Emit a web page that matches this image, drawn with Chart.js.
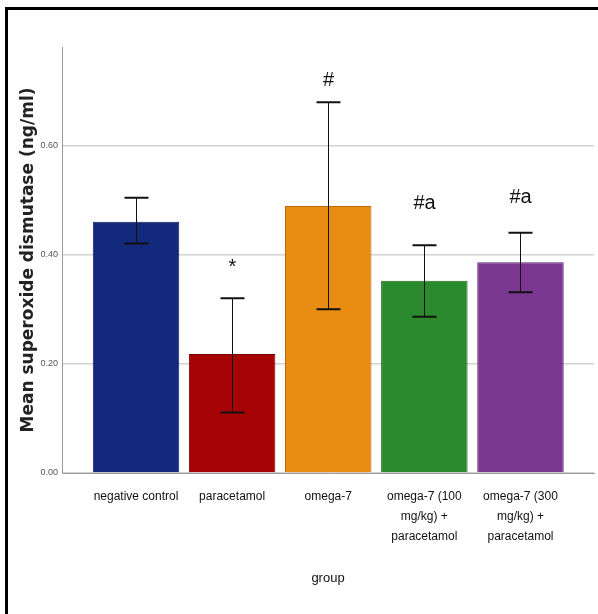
<!DOCTYPE html>
<html>
<head>
<meta charset="utf-8">
<script src="https://cdn.jsdelivr.net/npm/chart.js@4"></script>
<style>
  html, body { margin: 0; padding: 0; background: #fff; }
  #wrap { position: relative; width: 598px; height: 614px; }
</style>
</head>
<body>
<div id="wrap"><canvas id="chart" width="598" height="614"></canvas></div>
<script>
const groups = ["negative control", "paracetamol", "omega-7", "omega-7 (100 mg/kg) + paracetamol", "omega-7 (300 mg/kg) + paracetamol"];
const groupLines = [["negative control"], ["paracetamol"], ["omega-7"], ["omega-7 (100", "mg/kg) +", "paracetamol"], ["omega-7 (300", "mg/kg) +", "paracetamol"]];
const means = [0.460, 0.218, 0.489, 0.352, 0.386];
const errLow = [0.420, 0.111, 0.300, 0.286, 0.331];
const errHigh = [0.504, 0.320, 0.679, 0.417, 0.440];
const marks = ["", "*", "#", "#a", "#a"];
const markAt = [0, 0.377, 0.719, 0.494, 0.505];
const yTicks = [0, 0.2, 0.4, 0.6];
const colors = ["#13297c", "#a60304", "#e88d12", "#2c8a2e", "#7a3690"];
const edges = ["#0c1d5c", "#7a0000", "#b86a05", "#1d6820", "#5a2470"];

const sans = "'Liberation Sans', Arial, sans-serif";

const extras = {
  id: "extras",
  beforeDraw(chart) {
    const ctx = chart.ctx;
    ctx.save();
    ctx.fillStyle = "#fff";
    ctx.fillRect(0, 0, chart.width, chart.height);
    ctx.fillStyle = "#000";
    ctx.fillRect(5, 7, chart.width - 5, 3);
    ctx.fillRect(5, 7, 3, chart.height - 7);
    ctx.restore();
  },
  afterDatasetsDraw(chart) {
    const ctx = chart.ctx;
    const x = chart.scales.x, y = chart.scales.y;
    ctx.save();
    means.forEach((m, i) => {
      const cx = Math.round(x.getPixelForValue(i)) + 0.5;
      const top = y.getPixelForValue(errHigh[i]);
      const bot = y.getPixelForValue(errLow[i]);
      ctx.strokeStyle = "#111";
      ctx.lineWidth = 1;
      ctx.beginPath();
      ctx.moveTo(cx, top);
      ctx.lineTo(cx, bot);
      ctx.stroke();
      ctx.lineWidth = 2;
      ctx.beginPath();
      ctx.moveTo(cx - 12, top);
      ctx.lineTo(cx + 12, top);
      ctx.moveTo(cx - 12, bot);
      ctx.lineTo(cx + 12, bot);
      ctx.stroke();
      if (marks[i]) {
        ctx.fillStyle = "#111";
        ctx.font = "20px " + sans;
        ctx.textAlign = "center";
        ctx.textBaseline = "middle";
        ctx.fillText(marks[i], cx, y.getPixelForValue(markAt[i]));
      }
    });
    ctx.restore();
  }
};

new Chart(document.getElementById("chart"), {
  type: "bar",
  data: {
    labels: groups,
    datasets: [{
      data: means.map((v, i) => ({ x: i, y: v })),
      backgroundColor: colors,
      borderColor: edges,
      borderWidth: 1,
      barPercentage: 0.9,
      categoryPercentage: 1
    }]
  },
  options: {
    responsive: false,
    animation: false,
    layout: { padding: { left: 0, top: 47, right: 4, bottom: 0 } },
    plugins: { legend: { display: false }, tooltip: { enabled: false } },
    scales: {
      x: {
        type: "linear",
        offset: false,
        min: -0.77,
        max: 4.765,
        afterBuildTicks: s => { s.ticks = groups.map((g, i) => ({ value: i })); },
        afterFit: s => { s.height = 141; },
        grid: { display: false, drawTicks: false },
        border: { color: "#9a9a9a", width: 1 },
        ticks: {
          autoSkip: false,
          maxRotation: 0,
          padding: 14,
          color: "#111",
          font: { family: sans, size: 12, lineHeight: "20px" },
          callback: v => groupLines[v]
        },
        title: {
          display: true,
          text: "group",
          color: "#111",
          font: { family: sans, size: 13 },
          padding: { top: 0, bottom: 28 }
        }
      },
      y: {
        min: 0,
        max: 0.78,
        afterBuildTicks: s => { s.ticks = yTicks.map(v => ({ value: v })); },
        afterFit: s => { s.width = 62; },
        grid: { color: "#d2d2d2", lineWidth: 1.5, drawTicks: false },
        border: { color: "#9a9a9a", width: 1 },
        ticks: {
          padding: 4,
          color: "#555",
          font: { family: sans, size: 9 },
          callback: v => v.toFixed(2)
        },
        title: {
          display: true,
          text: "Mean superoxide dismutase (ng/ml)",
          color: "#222",
          font: { family: "'DejaVu Sans', sans-serif", size: 17, weight: "bold" },
          padding: { top: 18, bottom: 0 }
        }
      }
    }
  },
  plugins: [extras]
});
</script>
</body>
</html>
